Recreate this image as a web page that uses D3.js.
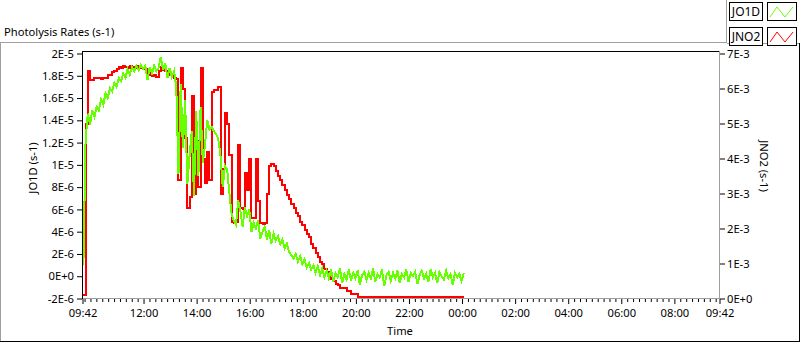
<!DOCTYPE html>
<html>
<head>
<meta charset="utf-8">
<script src="https://cdnjs.cloudflare.com/ajax/libs/d3/7.8.5/d3.min.js"></script>
<style>
  body { margin: 0; background: #fff; }
  svg text { font-family: 'Noto Sans', sans-serif; font-size: 11.2px; fill: #000; }
</style>
</head>
<body>
<svg id="chart" width="800" height="342"></svg>
<script>
// samples every 5 minutes starting at 09:44
const startTime = '09:44';
const stepMinutes = 5;

// JO1D, units of 1E-6 s-1 (left axis)
const jo1d = [
  1.0, 12.3, 14.6, 13.6, 14.9, 14.3, 15.2, 14.9, 15.9, 15.4,
  16.4, 16.0, 16.9, 16.6, 17.4, 17.0, 17.8, 17.5, 18.2, 17.8,
  18.6, 18.1, 18.8, 18.4, 18.9, 18.5, 19.0, 18.6, 18.9, 17.6,
  18.8, 18.2, 18.9, 18.4, 18.7, 19.7, 18.5, 19.1, 17.8, 18.7,
  17.9, 18.4, 17.0, 9.2, 17.3, 11.5, 15.8, 8.3, 10.8, 13.0,
  7.2, 14.8, 9.0, 15.2, 10.2, 11.8, 14.0, 13.2, 13.4, 13.0,
  12.8, 12.3, 10.8, 8.0, 9.9, 9.6, 7.5, 5.6, 5.0, 4.6,
  6.8, 5.8, 4.4, 6.2, 5.4, 6.0, 4.0, 4.8, 4.3, 5.0,
  3.4, 4.0, 4.4, 3.3, 4.1, 2.9, 3.8, 3.2, 3.6, 2.9,
  3.3, 2.5, 2.9, 2.2, 1.9, 1.6, 2.0, 1.3, 1.8, 1.1,
  1.5, 0.8, 1.2, 0.6, 1.0, 0.3, 0.9, 0.1, 0.7, -0.1,
  0.5, -0.2, 0.6, -0.5, 0.3, -0.1, 0.7, -0.6, 0.2, -0.3,
  0.6, -0.4, 0.3, -0.2, 0.5, -0.8, 0.1, 0.4, -0.3, 0.3,
  -0.2, 0.7, -0.5, 0.2, -0.1, 0.6, -0.9, 0.1, 0.4, -0.4,
  0.3, -0.2, 0.5, -0.6, 0.2, -0.1, 0.6, -0.5, 0.3, 0.0,
  0.4, -0.7, 0.1, 0.5, -0.2, 0.2, -0.5, 0.6, -0.1, 0.3,
  -0.6, 0.4, 0.0, -0.3, 0.5, -0.2, 0.2, -0.8, 0.3, -0.1,
  0.2, -0.4, 0.3
];

// JNO2, units of 1E-3 s-1 (right axis)
const jno2 = [
  0.1, 5.0, 6.5, 6.25, 6.24, 6.3, 6.31, 6.31, 6.28, 6.31,
  6.31, 6.38, 6.40, 6.48, 6.51, 6.55, 6.62, 6.60, 6.63, 6.62,
  6.60, 6.63, 6.62, 6.60, 6.63, 6.61, 6.58, 6.60, 6.55, 6.40,
  6.45, 6.35, 6.40, 6.32, 6.50, 6.62, 6.52, 6.50, 6.45, 6.40,
  6.35, 6.30, 6.28, 3.4, 6.6, 6.0, 4.6, 2.6, 2.9, 5.8,
  3.0, 4.5, 3.2, 6.6, 4.0, 3.3, 4.2, 3.4, 5.9, 5.95,
  5.95, 6.05, 3.0, 3.7, 5.3, 5.0, 4.1, 2.2, 2.15, 2.2,
  4.4, 2.6, 2.55, 3.6, 3.1, 4.0, 2.3, 2.3, 4.0, 2.8,
  2.15, 2.12, 2.15, 3.0, 3.8, 3.85, 3.8, 3.65, 3.5, 3.4,
  3.25, 3.1, 2.95, 2.85, 2.7, 2.6, 2.45, 2.35, 2.2, 2.1,
  1.95, 1.85, 1.75, 1.55, 1.45, 1.3, 1.2, 1.05, 1.0, 0.85,
  0.75, 0.65, 0.55, 0.5, 0.42, 0.38, 0.31, 0.31, 0.31, 0.22,
  0.22, 0.13, 0.13, 0.13, 0.04, 0.04, 0.04, 0.04, 0.04, 0.04,
  0.04, 0.04, 0.04, 0.04, 0.04, 0.04, 0.04, 0.04, 0.04, 0.04,
  0.04, 0.04, 0.04, 0.04, 0.04, 0.04, 0.04, 0.04, 0.04, 0.04,
  0.04, 0.04, 0.04, 0.04, 0.04, 0.04, 0.04, 0.04, 0.04, 0.04,
  0.04, 0.04, 0.04, 0.04, 0.04, 0.04, 0.04, 0.04, 0.04, 0.04,
  0.04, 0.04, 0.04
];

const timeTickLabels = ['09:42', '12:00', '14:00', '16:00', '18:00', '20:00', '22:00',
  '00:00', '02:00', '04:00', '06:00', '08:00', '09:42'];
const leftTicks = [-2, 0, 2, 4, 6, 8, 10, 12, 14, 16, 18, 20];
const leftTickLabels = ['-2E-6', '0E+0', '2E-6', '4E-6', '6E-6', '8E-6', '1E-5',
  '1.2E-5', '1.4E-5', '1.6E-5', '1.8E-5', '2E-5'];
const rightTicks = [0, 1, 2, 3, 4, 5, 6, 7];
const rightTickLabels = ['0E+0', '1E-3', '2E-3', '3E-3', '4E-3', '5E-3', '6E-3', '7E-3'];
const seriesNames = ['JO1D', 'JNO2'];
const seriesColors = ['#66ff00', '#ff0000'];

const plot = { left: 82, right: 719, top: 51, bottom: 298 };
const svg = d3.select('#chart');

const parseHM = d3.timeParse('%H:%M');
function toDates(labels) {
  let day = 0, prev = null;
  return labels.map(s => {
    let d = d3.timeDay.offset(parseHM(s), day);
    if (prev && d < prev) { day++; d = d3.timeDay.offset(d, 1); }
    prev = d;
    return d;
  });
}
const majorTimes = toDates(timeTickLabels);

const x = d3.scaleTime()
  .domain([majorTimes[0], majorTimes[majorTimes.length - 1]])
  .range([plot.left + 0.5, plot.right + 0.5]);
const yLeft = d3.scaleLinear().domain([-2, 20]).range([plot.bottom + 0.5, 53.5]);
const yRight = d3.scaleLinear().domain([0, 7]).range([plot.bottom + 0.5, 53.5]);

const t0 = parseHM(startTime);
const times = jo1d.map((_, i) => d3.timeMinute.offset(t0, i * stepMinutes));

// outer frame
const grey = '#a0a0a0';
svg.append('line').attr('x1', 0).attr('x2', 727).attr('y1', 42.5).attr('y2', 42.5).attr('stroke', grey);
svg.append('line').attr('x1', 0.5).attr('x2', 0.5).attr('y1', 42).attr('y2', 342).attr('stroke', grey);
svg.append('line').attr('x1', 726.5).attr('x2', 726.5).attr('y1', 0).attr('y2', 43).attr('stroke', grey);
svg.append('line').attr('x1', 727).attr('x2', 800).attr('y1', 43.5).attr('y2', 43.5).attr('stroke', grey);
svg.append('line').attr('x1', 0).attr('x2', 800).attr('y1', 341.5).attr('y2', 341.5).attr('stroke', '#000');
svg.append('line').attr('x1', 799.5).attr('x2', 799.5).attr('y1', 43).attr('y2', 342).attr('stroke', '#000');

svg.append('text').attr('x', 4).attr('y', 36).text('Photolysis Rates (s-1)');

// plot background and border
svg.append('rect').attr('x', plot.left).attr('y', plot.top)
  .attr('width', plot.right - plot.left).attr('height', plot.bottom - plot.top).attr('fill', '#fff');

svg.append('defs').append('clipPath').attr('id', 'clip').append('rect')
  .attr('x', plot.left).attr('y', plot.top)
  .attr('width', plot.right - plot.left + 1).attr('height', plot.bottom - plot.top);

svg.append('line').attr('x1', plot.left).attr('x2', plot.right + 1).attr('y1', plot.bottom + 0.5).attr('y2', plot.bottom + 0.5).attr('stroke', grey);

const g = svg.append('g').attr('clip-path', 'url(#clip)');

const greenLine = d3.line().x((d, i) => x(times[i])).y(d => yLeft(d));
const redLine = d3.line().curve(d3.curveStepAfter).x((d, i) => x(times[i])).y(d => yRight(d));

g.append('path').datum(jno2).attr('d', redLine)
  .attr('fill', 'none').attr('stroke', seriesColors[1]).attr('stroke-width', 2)
  .attr('shape-rendering', 'crispEdges');
g.append('path').datum(jo1d).attr('d', greenLine)
  .attr('fill', 'none').attr('stroke', seriesColors[0]).attr('stroke-width', 2)
  .attr('shape-rendering', 'crispEdges');

svg.append('line').attr('x1', plot.left).attr('x2', plot.right + 1).attr('y1', plot.top + 0.5).attr('y2', plot.top + 0.5).attr('stroke', '#000');
svg.append('line').attr('x1', plot.right + 0.5).attr('x2', plot.right + 0.5).attr('y1', plot.top).attr('y2', plot.bottom + 1).attr('stroke', grey);
svg.append('line').attr('x1', plot.left + 0.5).attr('x2', plot.left + 0.5).attr('y1', plot.top).attr('y2', plot.bottom + 1).attr('stroke', '#000');

// axes
function styleAxis(sel) {
  sel.select('.domain').remove();
  sel.selectAll('.tick line').attr('stroke', '#000');
  sel.selectAll('.tick text').attr('fill', '#000');
  sel.attr('font-family', null).attr('font-size', null);
}

svg.append('g').attr('transform', `translate(${plot.left},0)`)
  .call(d3.axisLeft(yLeft).tickValues(leftTicks).tickFormat((d, i) => leftTickLabels[i])
    .tickSize(5).tickPadding(3))
  .call(styleAxis);

svg.append('g').attr('transform', `translate(${plot.right + 1},0)`)
  .call(d3.axisRight(yRight).tickValues(rightTicks).tickFormat((d, i) => rightTickLabels[i])
    .tickSize(5).tickPadding(2))
  .call(styleAxis);

const minorTimes = d3.range(-10, 100).map(k => d3.timeSecond.offset(majorTimes[1], k * 800))
  .filter(d => d > majorTimes[0] && d < majorTimes[majorTimes.length - 1] && !majorTimes.some(m => +m === +d));

svg.append('g').attr('transform', `translate(0,${plot.bottom + 1})`)
  .call(d3.axisBottom(x).tickValues(minorTimes).tickFormat('').tickSize(3))
  .call(styleAxis);

svg.append('g').attr('transform', `translate(0,${plot.bottom + 1})`)
  .call(d3.axisBottom(x).tickValues(majorTimes).tickFormat((d, i) => timeTickLabels[i])
    .tickSize(5).tickPadding(5))
  .call(styleAxis);

svg.append('text').attr('x', 400).attr('y', 335).attr('text-anchor', 'middle').text('Time');
svg.append('text').attr('transform', 'translate(37,168) rotate(-90)')
  .attr('text-anchor', 'middle').attr('fill', '#1a1a60').text('JO1D (s-1)');
svg.append('text').attr('transform', 'translate(760,166) rotate(90)')
  .attr('text-anchor', 'middle').attr('fill', '#1a1a60').text('JNO2 (s-1)');

// legend
const legend = svg.append('g');
seriesNames.forEach((name, i) => {
  const y0 = 2 + i * 25;
  legend.append('rect').attr('x', 729.5).attr('y', y0 + 0.5).attr('width', 33).attr('height', 18)
    .attr('fill', '#fff').attr('stroke', '#000');
  legend.append('text').attr('x', 746).attr('y', y0 + 14).attr('text-anchor', 'middle')
    .style('font-size', '12px').text(name);
  legend.append('rect').attr('x', 767.5).attr('y', y0 + 0.5).attr('width', 29).attr('height', 18)
    .attr('fill', '#fff').attr('stroke', '#000');
  legend.append('polyline')
    .attr('points', [[770, y0 + 15], [777, y0 + 5], [785, y0 + 15], [793, y0 + 5]].join(' '))
    .attr('fill', 'none').attr('stroke', seriesColors[i]).attr('stroke-width', 1);
});
</script>
</body>
</html>
